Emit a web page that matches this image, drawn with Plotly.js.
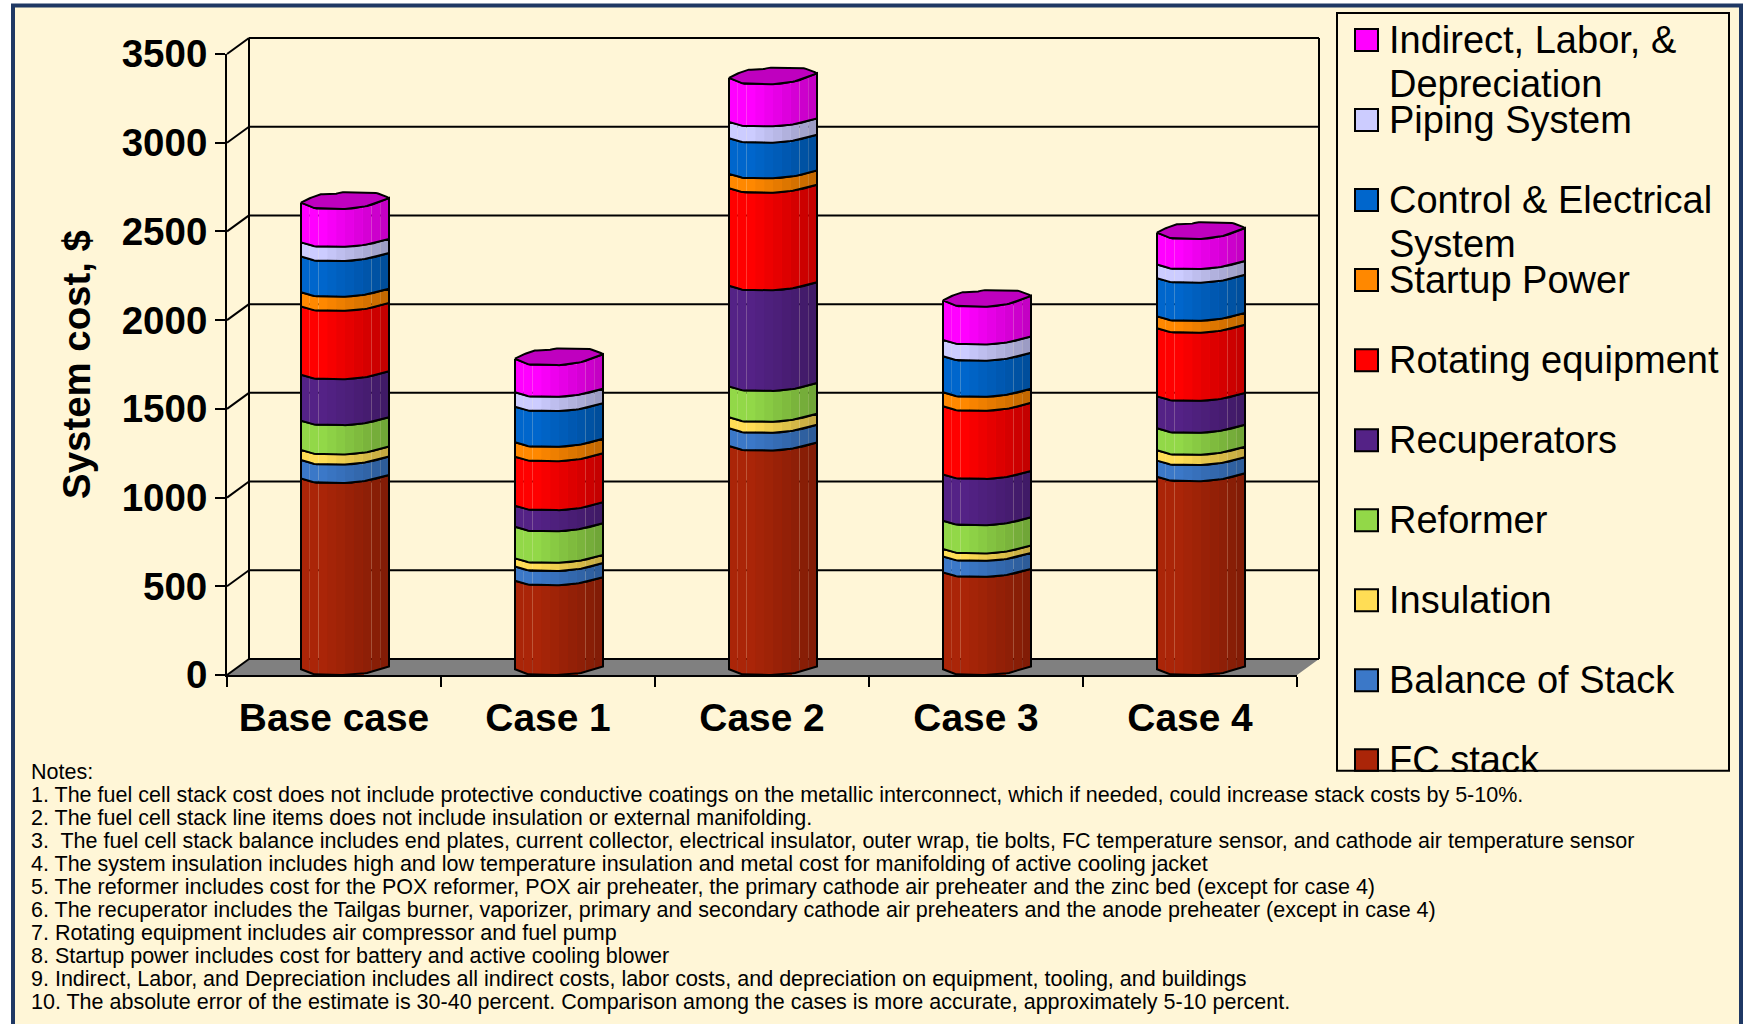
<!DOCTYPE html>
<html>
<head>
<meta charset="utf-8">
<title>System cost by case</title>
<script src="https://cdn.plot.ly/plotly-3.0.1.min.js"></script>
<style>html,body{margin:0;padding:0;background:#fff}#chart{width:1744px;height:1024px}</style>
</head>
<body>
<div id="chart"></div>
<script>
// System cost breakdown, bottom of the stack first
const categories = ['Base case', 'Case 1', 'Case 2', 'Case 3', 'Case 4'];
const fcStack      = [1082, 506, 1265, 553, 1092];
const balanceStack = [104, 80, 100, 90, 91];
const insulation   = [57, 46, 62, 42, 58];
const reformer     = [165, 178, 174, 159, 124];
const recuperators = [259, 119, 567, 261, 180];
const rotating     = [385, 276, 550, 384, 384];
const startupPower = [80, 81, 81, 79, 67];
const controlElec  = [201, 201, 201, 203, 215];
const pipingSystem = [80, 81, 92, 92, 77];
const indirectCost = [213, 178, 237, 212, 169];

const seriesNames = ['FC stack', 'Balance of Stack', 'Insulation', 'Reformer', 'Recuperators',
  'Rotating equipment', 'Startup Power', 'Control & Electrical System', 'Piping System',
  'Indirect, Labor, & Depreciation'];
const seriesValues = [fcStack, balanceStack, insulation, reformer, recuperators,
  rotating, startupPower, controlElec, pipingSystem, indirectCost];
const seriesColors = ['#AA2508', '#3B78C8', '#FFDD55', '#92D848', '#542286',
  '#FF0000', '#FF8800', '#0066CC', '#CCCCFF', '#FF00FF'];

const yTicks = [0, 500, 1000, 1500, 2000, 2500, 3000, 3500];

const legendLines = [
  ['Indirect, Labor, &', 'Depreciation'], ['Piping System'], ['Control & Electrical', 'System'],
  ['Startup Power'], ['Rotating equipment'], ['Recuperators'], ['Reformer'], ['Insulation'],
  ['Balance of Stack'], ['FC stack']
];
const legendColors = seriesColors.slice().reverse();

const notes = [
  'Notes:',
  '1. The fuel cell stack cost does not include protective conductive coatings on the metallic interconnect, which if needed, could increase stack costs by 5-10%.',
  '2. The fuel cell stack line items does not include insulation or external manifolding.',
  '3.  The fuel cell stack balance includes end plates, current collector, electrical insulator, outer wrap, tie bolts, FC temperature sensor, and cathode air temperature sensor',
  '4. The system insulation includes high and low temperature insulation and metal cost for manifolding of active cooling jacket',
  '5. The reformer includes cost for the POX reformer, POX air preheater, the primary cathode air preheater and the zinc bed (except for case 4)',
  '6. The recuperator includes the Tailgas burner, vaporizer, primary and secondary cathode air preheaters and the anode preheater (except in case 4)',
  '7. Rotating equipment includes air compressor and fuel pump',
  '8. Startup power includes cost for battery and active cooling blower',
  '9. Indirect, Labor, and Depreciation includes all indirect costs, labor costs, and depreciation on equipment, tooling, and buildings',
  '10. The absolute error of the estimate is 30-40 percent. Comparison among the cases is more accurate, approximately 5-10 percent.'
];

// Plot frame in page pixels
const plotL = 227, plotR = 1297, plotT = 54, plotB = 674.7;
const plotW = plotR - plotL, plotH = plotB - plotT;
const yMax = 3500;
const depthX = 22, depthY = 16;           // perspective offset of the back wall
const unitsPerPx = yMax / plotH;
const catPx = plotW / categories.length;
const barShift = depthX / 2 / catPx;      // columns sit midway between front and back
const barW = 88 / catPx;

const px = x => (x - plotL) / plotW;
const py = y => (plotB - y) / plotH;

// Outline profile of a column edge: t across the width, lift in pixels above the front point
const edgeT    = [0, 0.16, 0.54, 0.78, 1];
const edgeLift = [4.5, 0.4, 0, 2.6, 8];
const frontLift = [6.5, 0.6, 0, 3.5, 11];
const baseLift = [5.7, 0.3, 0, 2.4, 8.6];
const capT    = [0, 0.06, 0.215, 0.366, 0.46, 0.83, 0.95, 1];
const capLift = [6.5, 9.5, 14.7, 14.7, 16.7, 16.7, 13.5, 11];

function lerpCurve(ts, vs, t) {
  for (let i = 1; i < ts.length; i++) {
    if (t <= ts[i]) {
      const f = (t - ts[i - 1]) / (ts[i] - ts[i - 1]);
      return vs[i - 1] + f * (vs[i] - vs[i - 1]);
    }
  }
  return vs[vs.length - 1];
}

function shade(hex, f) {
  const n = parseInt(hex.slice(1), 16);
  const c = [(n >> 16) & 255, (n >> 8) & 255, n & 255].map(v => Math.round(v * f));
  return 'rgb(' + c.join(',') + ')';
}
const brightness = t => t < 0.25 ? 1 : 1 - (t - 0.25) / 0.75 * 0.25;

const traces = [];

// Stacked bars carrying the values
seriesNames.forEach((name, s) => {
  traces.push({
    type: 'bar', name: name,
    x: categories.map((c, i) => i + barShift),
    y: seriesValues[s],
    width: barW * 0.44,
    marker: {color: seriesColors[s], line: {width: 0}},
    showlegend: false, hoverinfo: 'y+name'
  });
});

// Cylinder shading: each series gets vertical strips following the column's curved rims
const nStrips = 10, subPts = 3;
const cum = categories.map(() => 0);
seriesNames.forEach((name, s) => {
  const lowers = cum.slice();
  const uppers = cum.map((v, i) => v + seriesValues[s][i]);
  const isTop = s === seriesNames.length - 1;
  const lowLift = s === 0 ? baseLift : edgeLift;
  const upLift = isTop ? frontLift : edgeLift;
  for (let k = 0; k < nStrips; k++) {
    const xs = [], ys = [];
    categories.forEach((c, i) => {
      const cx = i + barShift;
      const top = [], bot = [];
      for (let m = 0; m <= subPts; m++) {
        const t = (k + m / subPts) / nStrips;
        const xv = cx + (t - 0.5) * barW;
        top.push([xv, uppers[i] + lerpCurve(edgeT, upLift, t) * unitsPerPx]);
        bot.push([xv, lowers[i] + lerpCurve(edgeT, lowLift, t) * unitsPerPx]);
      }
      top.concat(bot.reverse()).forEach(p => { xs.push(p[0]); ys.push(p[1]); });
      xs.push(xs[xs.length - 2 * subPts - 2]); ys.push(ys[ys.length - 2 * subPts - 2]);
      xs.push(null); ys.push(null);
    });
    traces.push({
      type: 'scatter', mode: 'lines', x: xs, y: ys, fill: 'toself',
      fillcolor: shade(seriesColors[s], brightness((k + 0.5) / nStrips)),
      line: {width: 0}, hoverinfo: 'skip', showlegend: false, cliponaxis: false
    });
  }
  // Black rim around each series' band
  const ox = [], oy = [];
  categories.forEach((c, i) => {
    const cx = i + barShift;
    const n = 40;
    for (let m = 0; m <= n; m++) {
      const t = m / n;
      ox.push(cx + (t - 0.5) * barW);
      oy.push(uppers[i] + lerpCurve(edgeT, upLift, t) * unitsPerPx);
    }
    for (let m = n; m >= 0; m--) {
      const t = m / n;
      ox.push(cx + (t - 0.5) * barW);
      oy.push(lowers[i] + lerpCurve(edgeT, lowLift, t) * unitsPerPx);
    }
    ox.push(ox[ox.length - 2 * n - 2]); oy.push(oy[oy.length - 2 * n - 2]);
    ox.push(null); oy.push(null);
  });
  traces.push({
    type: 'scatter', mode: 'lines', x: ox, y: oy,
    line: {color: '#000', width: 2, shape: 'linear'},
    hoverinfo: 'skip', showlegend: false, cliponaxis: false
  });
  categories.forEach((c, i) => { cum[i] = uppers[i]; });
});

// Top caps of the columns
const capX = [], capY = [];
categories.forEach((c, i) => {
  const cx = i + barShift;
  const n = 40;
  for (let m = 0; m <= n; m++) {
    const t = m / n;
    capX.push(cx + (t - 0.5) * barW);
    capY.push(cum[i] + lerpCurve(capT, capLift, t) * unitsPerPx);
  }
  for (let m = n; m >= 0; m--) {
    const t = m / n;
    capX.push(cx + (t - 0.5) * barW);
    capY.push(cum[i] + lerpCurve(edgeT, frontLift, t) * unitsPerPx);
  }
  capX.push(capX[capX.length - 2 * n - 2]); capY.push(capY[capY.length - 2 * n - 2]);
  capX.push(null); capY.push(null);
});
traces.push({
  type: 'scatter', mode: 'lines', x: capX, y: capY, fill: 'toself',
  fillcolor: shade(seriesColors[seriesColors.length - 1], 0.75),
  line: {color: '#000', width: 2}, hoverinfo: 'skip', showlegend: false, cliponaxis: false
});

// Slide panel, back wall, floor
const bg = '#FFF6D7';
const navy = '#1F3864';
const shapes = [];
const paperRect = (x0, y0, x1, y1, extra) => Object.assign({
  type: 'rect', xref: 'paper', yref: 'paper', x0: px(x0), x1: px(x1), y0: py(y0), y1: py(y1), layer: 'below'
}, extra);
const paperLine = (x0, y0, x1, y1, width) => ({
  type: 'line', xref: 'paper', yref: 'paper', x0: x0, x1: x1, y0: y0, y1: y1, layer: 'below',
  line: {color: '#000', width: width}
});
shapes.push(paperRect(13, 5.5, 1741, 1040, {fillcolor: bg, line: {color: navy, width: 4}}));

const dx = depthX / plotW, dy = depthY / plotH;
shapes.push({
  type: 'path', xref: 'paper', yref: 'paper', layer: 'below',
  path: 'M0,0 L' + dx + ',' + dy + ' L' + (1 + dx) + ',' + dy + ' L1,0 Z',
  fillcolor: '#808080', line: {width: 0}
});
yTicks.forEach(v => {
  const f = v / yMax;
  shapes.push(paperLine(0, f, dx, f + dy, 2));
  shapes.push(paperLine(dx, f + dy, 1 + dx, f + dy, 2));
});
shapes.push(paperLine(dx, dy, dx, 1 + dy, 2));
shapes.push(paperLine(1 + dx, dy, 1 + dx, 1 + dy, 2));

// Hand-placed legend panel
const legL = 1337, legR = 1729, legT = 13, legB = 770.3;
shapes.push(paperRect(legL, legT, legR, legB, {line: {color: '#000', width: 2}, fillcolor: 'rgba(0,0,0,0)', layer: 'above'}));

const annotations = [];
const textFont = 'Liberation Sans, Arial, sans-serif';
function addText(text, xPx, yPx, size) {
  annotations.push({
    xref: 'paper', yref: 'paper', x: px(xPx), y: py(yPx), text: text, showarrow: false,
    xanchor: 'left', yanchor: 'middle', align: 'left', borderpad: 0,
    font: {family: textFont, size: size, color: '#000'}
  });
}
const legStep = 80, legFirst = 40;
legendLines.forEach((lines, i) => {
  const cy = legFirst + i * legStep;
  const y0 = cy - 11, y1 = Math.min(cy + 11, legB);
  shapes.push(paperRect(1355, y0, 1378, y1, {fillcolor: legendColors[i], line: {color: '#000', width: 2}, layer: 'above'}));
  lines.forEach((line, j) => addText(line, 1388, cy + j * 44, 38));
});
// Panel's bottom edge trims its last entry
annotations.push({
  xref: 'paper', yref: 'paper', x: px(1345), y: py(771.6), xanchor: 'left', yanchor: 'top',
  text: ' ', showarrow: false, width: 300, height: 14, bgcolor: bg, borderpad: 0, borderwidth: 0
});

const noteTop = 772, noteStep = 23;
notes.forEach((line, i) => addText(line, 29.5, noteTop + i * noteStep, 21.5));

const layout = {
  width: 1744, height: 1024,
  margin: {l: plotL, r: 1744 - plotR, t: plotT, b: 1024 - plotB, pad: 0},
  paper_bgcolor: '#ffffff', plot_bgcolor: 'rgba(0,0,0,0)',
  barmode: 'stack', showlegend: false,
  xaxis: {
    type: 'linear', range: [-0.5, categories.length - 0.5],
    tickmode: 'array', tickvals: categories.map((c, i) => i), ticktext: categories,
    ticks: '', showgrid: false, zeroline: false, showline: true, linecolor: '#000', linewidth: 2,
    ticklabelstandoff: 7, ticklabelshift: 1.5,
    tickfont: {family: textFont, size: 38.9, color: '#000', weight: 'bold'},
    minor: {tickmode: 'array', tickvals: [-0.5, 0.5, 1.5, 2.5, 3.5, 4.5], ticks: 'outside', ticklen: 10, tickwidth: 2, tickcolor: '#000', showgrid: false}
  },
  yaxis: {
    range: [0, yMax], tickmode: 'array', tickvals: yTicks, ticks: 'outside', ticklen: 10, tickwidth: 2, tickcolor: '#000',
    showgrid: false, zeroline: false, showline: true, linecolor: '#000', linewidth: 2,
    tickfont: {family: textFont, size: 38.5, color: '#000', weight: 'bold'},
    title: {text: 'System cost, $', standoff: 19, font: {family: textFont, size: 38.4, color: '#000', weight: 'bold'}}
  },
  shapes: shapes,
  annotations: annotations
};

Plotly.newPlot('chart', traces, layout, {displayModeBar: false, responsive: false});
</script>
</body>
</html>
